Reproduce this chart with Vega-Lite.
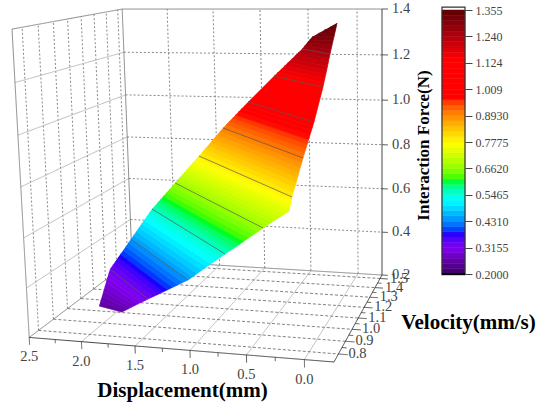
{"$schema":"https://vega.github.io/schema/vega-lite/v6.json","background":"white","padding":0,"spacing":0,"bounds":"flush","config":{"view":{"stroke":null}},
"datasets":{
"levels":[
{"F":0.24,"dL":2.122,"vL":0.962,"dR":1.846,"vR":0.924},{"F":0.2495,"dL":2.139,"vL":0.987,"dR":1.81,"vR":0.921},{"F":0.259,"dL":2.155,"vL":1.011,"dR":1.773,"vR":0.917},{"F":0.2685,"dL":2.172,"vL":1.036,"dR":1.737,"vR":0.914},{"F":0.278,"dL":2.189,"vL":1.06,"dR":1.7,"vR":0.91},{"F":0.2875,"dL":2.206,"vL":1.084,"dR":1.663,"vR":0.907},{"F":0.297,"dL":2.222,"vL":1.108,"dR":1.626,"vR":0.903},{"F":0.306,"dL":2.239,"vL":1.133,"dR":1.59,"vR":0.9},
{"F":0.3155,"dL":2.255,"vL":1.157,"dR":1.553,"vR":0.896},{"F":0.33,"dL":2.235,"vL":1.165,"dR":1.497,"vR":0.889},{"F":0.344,"dL":2.215,"vL":1.172,"dR":1.441,"vR":0.881},{"F":0.3585,"dL":2.196,"vL":1.18,"dR":1.385,"vR":0.874},{"F":0.373,"dL":2.176,"vL":1.187,"dR":1.328,"vR":0.867},{"F":0.3875,"dL":2.156,"vL":1.195,"dR":1.272,"vR":0.86},{"F":0.402,"dL":2.136,"vL":1.202,"dR":1.215,"vR":0.852},{"F":0.4165,"dL":2.117,"vL":1.21,"dR":1.159,"vR":0.845},
{"F":0.431,"dL":2.097,"vL":1.217,"dR":1.103,"vR":0.837},{"F":0.4455,"dL":2.078,"vL":1.226,"dR":1.059,"vR":0.836},{"F":0.46,"dL":2.059,"vL":1.234,"dR":1.015,"vR":0.835},{"F":0.4745,"dL":2.04,"vL":1.243,"dR":0.971,"vR":0.834},{"F":0.489,"dL":2.02,"vL":1.251,"dR":0.927,"vR":0.832},{"F":0.5035,"dL":2.001,"vL":1.259,"dR":0.883,"vR":0.831},{"F":0.518,"dL":1.982,"vL":1.267,"dR":0.838,"vR":0.83},{"F":0.532,"dL":1.963,"vL":1.276,"dR":0.794,"vR":0.829},
{"F":0.5465,"dL":1.943,"vL":1.284,"dR":0.75,"vR":0.827},{"F":0.561,"dL":1.914,"vL":1.287,"dR":0.705,"vR":0.825},{"F":0.575,"dL":1.885,"vL":1.289,"dR":0.66,"vR":0.822},{"F":0.5895,"dL":1.857,"vL":1.292,"dR":0.616,"vR":0.82},{"F":0.604,"dL":1.828,"vL":1.294,"dR":0.571,"vR":0.818},{"F":0.6185,"dL":1.799,"vL":1.297,"dR":0.526,"vR":0.816},{"F":0.633,"dL":1.77,"vL":1.299,"dR":0.481,"vR":0.813},{"F":0.6475,"dL":1.741,"vL":1.302,"dR":0.437,"vR":0.811},
{"F":0.662,"dL":1.712,"vL":1.304,"dR":0.392,"vR":0.808},{"F":0.6735,"dL":1.69,"vL":1.308,"dR":0.355,"vR":0.809},{"F":0.685,"dL":1.669,"vL":1.311,"dR":0.317,"vR":0.809},{"F":0.696,"dL":1.647,"vL":1.314,"dR":0.28,"vR":0.81},{"F":0.707,"dL":1.625,"vL":1.317,"dR":0.243,"vR":0.81},{"F":0.7185,"dL":1.604,"vL":1.321,"dR":0.206,"vR":0.81},{"F":0.73,"dL":1.582,"vL":1.324,"dR":0.168,"vR":0.811},{"F":0.738,"dL":1.566,"vL":1.326,"dR":0.166,"vR":0.814},
{"F":0.746,"dL":1.55,"vL":1.328,"dR":0.163,"vR":0.817},{"F":0.754,"dL":1.534,"vL":1.33,"dR":0.16,"vR":0.82},{"F":0.762,"dL":1.517,"vL":1.331,"dR":0.158,"vR":0.822},{"F":0.77,"dL":1.501,"vL":1.333,"dR":0.156,"vR":0.825},{"F":0.7775,"dL":1.485,"vL":1.335,"dR":0.153,"vR":0.828},{"F":0.792,"dL":1.459,"vL":1.341,"dR":0.152,"vR":0.842},{"F":0.806,"dL":1.433,"vL":1.347,"dR":0.15,"vR":0.857},{"F":0.8205,"dL":1.407,"vL":1.354,"dR":0.148,"vR":0.872},
{"F":0.835,"dL":1.381,"vL":1.36,"dR":0.146,"vR":0.886},{"F":0.8495,"dL":1.355,"vL":1.366,"dR":0.145,"vR":0.9},{"F":0.864,"dL":1.328,"vL":1.372,"dR":0.143,"vR":0.915},{"F":0.8785,"dL":1.302,"vL":1.379,"dR":0.141,"vR":0.93},{"F":0.893,"dL":1.276,"vL":1.385,"dR":0.139,"vR":0.944},{"F":0.9075,"dL":1.244,"vL":1.386,"dR":0.135,"vR":0.956},{"F":0.922,"dL":1.212,"vL":1.387,"dR":0.131,"vR":0.969},{"F":0.9365,"dL":1.18,"vL":1.389,"dR":0.128,"vR":0.982},
{"F":0.951,"dL":1.147,"vL":1.39,"dR":0.124,"vR":0.994},{"F":0.9655,"dL":1.115,"vL":1.391,"dR":0.12,"vR":1.006},{"F":0.98,"dL":1.083,"vL":1.392,"dR":0.116,"vR":1.019},{"F":0.9945,"dL":1.05,"vL":1.393,"dR":0.112,"vR":1.032},{"F":1.009,"dL":1.018,"vL":1.394,"dR":0.108,"vR":1.044},{"F":1.124,"dL":0.752,"vL":1.4,"dR":0.104,"vR":1.165},{"F":1.1385,"dL":0.718,"vL":1.402,"dR":0.105,"vR":1.179},
{"F":1.153,"dL":0.683,"vL":1.404,"dR":0.105,"vR":1.193},{"F":1.1675,"dL":0.649,"vL":1.406,"dR":0.106,"vR":1.208},{"F":1.182,"dL":0.615,"vL":1.408,"dR":0.106,"vR":1.222},{"F":1.1965,"dL":0.58,"vL":1.41,"dR":0.107,"vR":1.236},{"F":1.211,"dL":0.546,"vL":1.412,"dR":0.108,"vR":1.25},{"F":1.2255,"dL":0.512,"vL":1.414,"dR":0.109,"vR":1.264},{"F":1.24,"dL":0.477,"vL":1.416,"dR":0.109,"vR":1.278},
{"F":1.255,"dL":0.441,"vL":1.4,"dR":0.117,"vR":1.306},{"F":1.27,"dL":0.405,"vL":1.385,"dR":0.125,"vR":1.335},{"F":1.285,"dL":0.368,"vL":1.369,"dR":0.133,"vR":1.363},{"F":1.3,"dL":0.332,"vL":1.353,"dR":0.14,"vR":1.391},{"F":1.314,"dL":0.277,"vL":1.362,"dR":0.132,"vR":1.391},{"F":1.3275,"dL":0.222,"vL":1.372,"dR":0.125,"vR":1.391},{"F":1.341,"dL":0.166,"vL":1.381,"dR":0.118,"vR":1.391},{"F":1.355,"dL":0.111,"vL":1.391,"dR":0.111,"vR":1.391}],
"lines":[
{"k":"dot","D":2.5,"V":1.54,"F":1.2,"D2":-0.25,"V2":1.54,"F2":1.2},{"k":"dot","D":2.5,"V":1.54,"F":1.0,"D2":-0.25,"V2":1.54,"F2":1.0},{"k":"dot","D":2.5,"V":1.54,"F":0.8,"D2":-0.25,"V2":1.54,"F2":0.8},{"k":"dot","D":2.5,"V":1.54,"F":0.6,"D2":-0.25,"V2":1.54,"F2":0.6},{"k":"dot","D":2.5,"V":1.54,"F":0.4,"D2":-0.25,"V2":1.54,"F2":0.4},
{"k":"dot","D":2.0,"V":1.54,"F":0.2,"D2":2.0,"V2":1.54,"F2":1.4},{"k":"dot","D":1.5,"V":1.54,"F":0.2,"D2":1.5,"V2":1.54,"F2":1.4},{"k":"dot","D":1.0,"V":1.54,"F":0.2,"D2":1.0,"V2":1.54,"F2":1.4},{"k":"dot","D":0.5,"V":1.54,"F":0.2,"D2":0.5,"V2":1.54,"F2":1.4},{"k":"dot","D":0.0,"V":1.54,"F":0.2,"D2":0.0,"V2":1.54,"F2":1.4},
{"k":"dot","D":2.5,"V":0.8,"F":0.2,"D2":2.5,"V2":0.8,"F2":1.4},{"k":"dot","D":2.5,"V":0.9,"F":0.2,"D2":2.5,"V2":0.9,"F2":1.4},{"k":"dot","D":2.5,"V":1.0,"F":0.2,"D2":2.5,"V2":1.0,"F2":1.4},{"k":"dot","D":2.5,"V":1.1,"F":0.2,"D2":2.5,"V2":1.1,"F2":1.4},{"k":"dot","D":2.5,"V":1.2,"F":0.2,"D2":2.5,"V2":1.2,"F2":1.4},{"k":"dot","D":2.5,"V":1.3,"F":0.2,"D2":2.5,"V2":1.3,"F2":1.4},{"k":"dot","D":2.5,"V":1.4,"F":0.2,"D2":2.5,"V2":1.4,"F2":1.4},{"k":"dot","D":2.5,"V":1.5,"F":0.2,"D2":2.5,"V2":1.5,"F2":1.4},
{"k":"solid","D":2.5,"V":0.74,"F":1.2,"D2":2.5,"V2":1.54,"F2":1.2},{"k":"solid","D":2.5,"V":0.74,"F":1.0,"D2":2.5,"V2":1.54,"F2":1.0},{"k":"solid","D":2.5,"V":0.74,"F":0.8,"D2":2.5,"V2":1.54,"F2":0.8},{"k":"solid","D":2.5,"V":0.74,"F":0.6,"D2":2.5,"V2":1.54,"F2":0.6},{"k":"solid","D":2.5,"V":0.74,"F":0.4,"D2":2.5,"V2":1.54,"F2":0.4},
{"k":"solid","D":2.0,"V":0.74,"F":0.2,"D2":2.0,"V2":1.54,"F2":0.2},{"k":"solid","D":1.5,"V":0.74,"F":0.2,"D2":1.5,"V2":1.54,"F2":0.2},{"k":"solid","D":1.0,"V":0.74,"F":0.2,"D2":1.0,"V2":1.54,"F2":0.2},{"k":"solid","D":0.5,"V":0.74,"F":0.2,"D2":0.5,"V2":1.54,"F2":0.2},{"k":"solid","D":0.0,"V":0.74,"F":0.2,"D2":0.0,"V2":1.54,"F2":0.2},
{"k":"dash","D":2.5,"V":0.8,"F":0.2,"D2":-0.25,"V2":0.8,"F2":0.2},{"k":"dash","D":2.5,"V":0.9,"F":0.2,"D2":-0.25,"V2":0.9,"F2":0.2},{"k":"dash","D":2.5,"V":1.0,"F":0.2,"D2":-0.25,"V2":1.0,"F2":0.2},{"k":"dash","D":2.5,"V":1.1,"F":0.2,"D2":-0.25,"V2":1.1,"F2":0.2},{"k":"dash","D":2.5,"V":1.2,"F":0.2,"D2":-0.25,"V2":1.2,"F2":0.2},{"k":"dash","D":2.5,"V":1.3,"F":0.2,"D2":-0.25,"V2":1.3,"F2":0.2},{"k":"dash","D":2.5,"V":1.4,"F":0.2,"D2":-0.25,"V2":1.4,"F2":0.2},{"k":"dash","D":2.5,"V":1.5,"F":0.2,"D2":-0.25,"V2":1.5,"F2":0.2},
{"k":"frame","D":2.5,"V":0.74,"F":1.4,"D2":2.5,"V2":1.54,"F2":1.4},{"k":"frame","D":2.5,"V":0.74,"F":0.2,"D2":2.5,"V2":0.74,"F2":1.4},{"k":"frame","D":2.5,"V":1.54,"F":0.2,"D2":2.5,"V2":1.54,"F2":1.4},{"k":"frame","D":2.5,"V":1.54,"F":1.4,"D2":-0.25,"V2":1.54,"F2":1.4},{"k":"frame","D":2.5,"V":1.54,"F":0.2,"D2":-0.25,"V2":1.54,"F2":0.2},{"k":"frame","D":2.5,"V":0.74,"F":0.2,"D2":2.5,"V2":1.54,"F2":0.2},
{"k":"axis","D":-0.25,"V":1.54,"F":0.2,"D2":-0.25,"V2":1.54,"F2":1.4},{"k":"axis","D":2.5,"V":0.74,"F":0.2,"D2":-0.25,"V2":0.74,"F2":0.2},{"k":"axis","D":-0.25,"V":0.74,"F":0.2,"D2":-0.25,"V2":1.54,"F2":0.2},
{"k":"tick","D":-0.25,"V":1.54,"F":1.4,"D2":-0.31,"V2":1.54,"F2":1.4},{"k":"tick","D":-0.25,"V":1.54,"F":1.2,"D2":-0.31,"V2":1.54,"F2":1.2},{"k":"tick","D":-0.25,"V":1.54,"F":1.0,"D2":-0.31,"V2":1.54,"F2":1.0},{"k":"tick","D":-0.25,"V":1.54,"F":0.8,"D2":-0.31,"V2":1.54,"F2":0.8},{"k":"tick","D":-0.25,"V":1.54,"F":0.6,"D2":-0.31,"V2":1.54,"F2":0.6},{"k":"tick","D":-0.25,"V":1.54,"F":0.4,"D2":-0.31,"V2":1.54,"F2":0.4},{"k":"tick","D":-0.25,"V":1.54,"F":0.2,"D2":-0.31,"V2":1.54,"F2":0.2},
{"k":"tick","D":2.5,"V":0.74,"F":0.2,"D2":2.5,"V2":0.74,"F2":0.17},{"k":"tick","D":2.25,"V":0.74,"F":0.2,"D2":2.25,"V2":0.74,"F2":0.185},{"k":"tick","D":2.0,"V":0.74,"F":0.2,"D2":2.0,"V2":0.74,"F2":0.17},{"k":"tick","D":1.75,"V":0.74,"F":0.2,"D2":1.75,"V2":0.74,"F2":0.185},{"k":"tick","D":1.5,"V":0.74,"F":0.2,"D2":1.5,"V2":0.74,"F2":0.17},{"k":"tick","D":1.25,"V":0.74,"F":0.2,"D2":1.25,"V2":0.74,"F2":0.185},{"k":"tick","D":1.0,"V":0.74,"F":0.2,"D2":1.0,"V2":0.74,"F2":0.17},{"k":"tick","D":0.75,"V":0.74,"F":0.2,"D2":0.75,"V2":0.74,"F2":0.185},{"k":"tick","D":0.5,"V":0.74,"F":0.2,"D2":0.5,"V2":0.74,"F2":0.17},{"k":"tick","D":0.25,"V":0.74,"F":0.2,"D2":0.25,"V2":0.74,"F2":0.185},{"k":"tick","D":0.0,"V":0.74,"F":0.2,"D2":0.0,"V2":0.74,"F2":0.17},
{"k":"tick","D":-0.25,"V":0.8,"F":0.2,"D2":-0.33,"V2":0.8,"F2":0.2},{"k":"tick","D":-0.25,"V":0.85,"F":0.2,"D2":-0.29,"V2":0.85,"F2":0.2},{"k":"tick","D":-0.25,"V":0.9,"F":0.2,"D2":-0.33,"V2":0.9,"F2":0.2},{"k":"tick","D":-0.25,"V":0.95,"F":0.2,"D2":-0.29,"V2":0.95,"F2":0.2},{"k":"tick","D":-0.25,"V":1.0,"F":0.2,"D2":-0.33,"V2":1.0,"F2":0.2},{"k":"tick","D":-0.25,"V":1.05,"F":0.2,"D2":-0.29,"V2":1.05,"F2":0.2},{"k":"tick","D":-0.25,"V":1.1,"F":0.2,"D2":-0.33,"V2":1.1,"F2":0.2},{"k":"tick","D":-0.25,"V":1.15,"F":0.2,"D2":-0.29,"V2":1.15,"F2":0.2},{"k":"tick","D":-0.25,"V":1.2,"F":0.2,"D2":-0.33,"V2":1.2,"F2":0.2},{"k":"tick","D":-0.25,"V":1.25,"F":0.2,"D2":-0.29,"V2":1.25,"F2":0.2},{"k":"tick","D":-0.25,"V":1.3,"F":0.2,"D2":-0.33,"V2":1.3,"F2":0.2},{"k":"tick","D":-0.25,"V":1.35,"F":0.2,"D2":-0.29,"V2":1.35,"F2":0.2},{"k":"tick","D":-0.25,"V":1.4,"F":0.2,"D2":-0.33,"V2":1.4,"F2":0.2},{"k":"tick","D":-0.25,"V":1.45,"F":0.2,"D2":-0.29,"V2":1.45,"F2":0.2},{"k":"tick","D":-0.25,"V":1.5,"F":0.2,"D2":-0.33,"V2":1.5,"F2":0.2},
{"k":"contour","D":2.255,"V":1.157,"F":0.3155,"D2":1.553,"V2":0.896,"F2":0.3155},{"k":"contour","D":2.097,"V":1.217,"F":0.431,"D2":1.103,"V2":0.837,"F2":0.431},{"k":"contour","D":1.943,"V":1.284,"F":0.5465,"D2":0.75,"V2":0.827,"F2":0.5465},{"k":"contour","D":1.712,"V":1.304,"F":0.662,"D2":0.392,"V2":0.808,"F2":0.662},{"k":"contour","D":1.485,"V":1.335,"F":0.7775,"D2":0.153,"V2":0.828,"F2":0.7775},{"k":"contour","D":1.276,"V":1.385,"F":0.893,"D2":0.139,"V2":0.944,"F2":0.893},{"k":"contour","D":1.018,"V":1.394,"F":1.009,"D2":0.108,"V2":1.044,"F2":1.009},{"k":"contour","D":0.752,"V":1.4,"F":1.124,"D2":0.104,"V2":1.165,"F2":1.124},{"k":"contour","D":0.477,"V":1.416,"F":1.24,"D2":0.109,"V2":1.278,"F2":1.24},
{"k":"zlab","t":"1.4","D":-0.25,"V":1.54,"F":1.4},{"k":"zlab","t":"1.2","D":-0.25,"V":1.54,"F":1.2},{"k":"zlab","t":"1.0","D":-0.25,"V":1.54,"F":1.0},{"k":"zlab","t":"0.8","D":-0.25,"V":1.54,"F":0.8},{"k":"zlab","t":"0.6","D":-0.25,"V":1.54,"F":0.6},{"k":"zlab","t":"0.4","D":-0.25,"V":1.54,"F":0.4},{"k":"zlab","t":"0.2","D":-0.25,"V":1.54,"F":0.2},
{"k":"vlab","t":"0.8","D":-0.25,"V":0.8,"F":0.2},{"k":"vlab","t":"0.9","D":-0.25,"V":0.9,"F":0.2},{"k":"vlab","t":"1.0","D":-0.25,"V":1.0,"F":0.2},{"k":"vlab","t":"1.1","D":-0.25,"V":1.1,"F":0.2},{"k":"vlab","t":"1.2","D":-0.25,"V":1.2,"F":0.2},{"k":"vlab","t":"1.3","D":-0.25,"V":1.3,"F":0.2},{"k":"vlab","t":"1.4","D":-0.25,"V":1.4,"F":0.2},{"k":"vlab","t":"1.5","D":-0.25,"V":1.5,"F":0.2},
{"k":"dlab","t":"2.5","D":2.5,"V":0.74,"F":0.2},{"k":"dlab","t":"2.0","D":2.0,"V":0.74,"F":0.2},{"k":"dlab","t":"1.5","D":1.5,"V":0.74,"F":0.2},{"k":"dlab","t":"1.0","D":1.0,"V":0.74,"F":0.2},{"k":"dlab","t":"0.5","D":0.5,"V":0.74,"F":0.2},{"k":"dlab","t":"0.0","D":0.0,"V":0.74,"F":0.2}],
"bar":[{"F":0.2},{"F":0.2231},{"F":0.2462},{"F":0.2693},{"F":0.2924},{"F":0.3155},{"F":0.3386},{"F":0.3617},{"F":0.3848},{"F":0.4079},{"F":0.431},{"F":0.4541},{"F":0.4772},{"F":0.5003},{"F":0.5234},{"F":0.5465},{"F":0.5696},{"F":0.5927},{"F":0.6158},{"F":0.6389},{"F":0.662},{"F":0.6851},{"F":0.7082},{"F":0.7313},{"F":0.7544},{"F":0.7775},{"F":0.8006},{"F":0.8237},{"F":0.8468},{"F":0.8699},{"F":0.893},{"F":0.9161},{"F":0.9392},{"F":0.9623},{"F":0.9854},{"F":1.0085},{"F":1.0316},{"F":1.0547},{"F":1.0778},{"F":1.1009},{"F":1.124},{"F":1.1471},{"F":1.1702},{"F":1.1933},{"F":1.2164},{"F":1.2395},{"F":1.2626},{"F":1.2857},{"F":1.3088},{"F":1.3319},{"F":1.355}]},
"hconcat":[
{"width":442,"height":402,
"encoding":{
"x":{"field":"sx","type":"quantitative","scale":{"domain":[0,442],"nice":false,"zero":false},"axis":{"title":"Displacement(mm)","domain":false,"ticks":false,"labels":false,"grid":false,"titleFont":"Liberation Serif","titleFontWeight":"bold","titleFontSize":21,"titleColor":"#000","titleX":182,"titleY":-12,"titleBaseline":"middle","titleAlign":"center"}},
"y":{"field":"sy","type":"quantitative","scale":{"domain":[402,0],"nice":false,"zero":false},"axis":{"title":"Velocity(mm/s)","domain":false,"ticks":false,"labels":false,"grid":false,"titleFont":"Liberation Serif","titleFontWeight":"bold","titleFontSize":21,"titleColor":"#000","titleX":468,"titleY":322,"titleAngle":0,"titleBaseline":"middle","titleAlign":"center"}}},
"layer":[
{"data":{"name":"lines"},
"transform":[{"filter":"indexof(['dot','solid','dash','frame','axis','tick'],datum.k)>=0"},
{"calculate":"(datum.D+0.25)/2.75","as":"a"},{"calculate":"(1.54-datum.V)/0.8","as":"b"},{"calculate":"(datum.F-0.2)/1.2","as":"c"},
{"calculate":"(datum.D2+0.25)/2.75","as":"a2"},{"calculate":"(1.54-datum.V2)/0.8","as":"b2"},{"calculate":"(datum.F2-0.2)/1.2","as":"c2"},
{"calculate":"1+0.06*datum.a-0.2*datum.b-0.04*datum.c","as":"w"},{"calculate":"1+0.06*datum.a2-0.2*datum.b2-0.04*datum.c2","as":"w2"},
{"calculate":"(382-242.08*datum.a-114.8*datum.b-15.28*datum.c)/datum.w","as":"sx"},{"calculate":"(275+0.6*datum.a+14.6*datum.b-266.36*datum.c)/datum.w","as":"sy"},
{"calculate":"(382-242.08*datum.a2-114.8*datum.b2-15.28*datum.c2)/datum.w2","as":"sx2"},{"calculate":"(275+0.6*datum.a2+14.6*datum.b2-266.36*datum.c2)/datum.w2","as":"sy2"}],
"mark":{"type":"rule"},
"encoding":{"x2":{"field":"sx2"},"y2":{"field":"sy2"},
"color":{"field":"k","type":"nominal","legend":null,"scale":{"domain":["dot","solid","dash","frame","axis","tick"],"range":["#888888","#b8b8b8","#777777","#7a7a7a","#222222","#333333"]}},
"strokeDash":{"field":"k","type":"nominal","legend":null,"scale":{"domain":["dot","solid","dash","frame","axis","tick"],"range":[[2,2],[1,0],[3,2],[1,0],[1,0],[1,0]]}},
"strokeWidth":{"field":"k","type":"nominal","legend":null,"scale":{"domain":["dot","solid","dash","frame","axis","tick"],"range":[1,0.8,0.9,1.1,1.4,1]}}}},
{"data":{"name":"levels"},
"transform":[{"window":[{"op":"lead","field":"F","as":"F2"},{"op":"lead","field":"dL","as":"dL2"},{"op":"lead","field":"vL","as":"vL2"},{"op":"lead","field":"dR","as":"dR2"},{"op":"lead","field":"vR","as":"vR2"}],"sort":[{"field":"F","order":"ascending"}]},
{"filter":"isValid(datum.F2)"},
{"calculate":"(datum.F+datum.F2)/2","as":"mid"},
{"calculate":"[datum.dL,datum.dR,datum.dR2,datum.dL2]","as":"pd"},{"calculate":"[datum.vL,datum.vR,datum.vR2,datum.vL2]","as":"pv"},{"calculate":"[datum.F,datum.F,datum.F2,datum.F2]","as":"pf"},{"calculate":"[0,1,2,3]","as":"o"},
{"flatten":["pd","pv","pf","o"],"as":["D","V","Fp","o"]},
{"calculate":"(datum.D+0.25)/2.75","as":"a"},{"calculate":"(1.54-datum.V)/0.8","as":"b"},{"calculate":"(datum.Fp-0.2)/1.2","as":"c"},
{"calculate":"1+0.06*datum.a-0.2*datum.b-0.04*datum.c","as":"w"},
{"calculate":"(382-242.08*datum.a-114.8*datum.b-15.28*datum.c)/datum.w","as":"sx"},{"calculate":"(275+0.6*datum.a+14.6*datum.b-266.36*datum.c)/datum.w","as":"sy"}],
"mark":{"type":"line","strokeWidth":0.7,"interpolate":"linear"},
"encoding":{"detail":{"field":"F"},"order":{"field":"o","type":"quantitative"},
"fill":{"field":"mid","type":"quantitative","legend":null,"scale":{"domain":[0.2,0.3,0.37,0.51,0.6,0.76,0.96,1.13,1.355],"range":["#45006e","#8000f0","#0000ff","#00ffff","#00ff00","#ffff00","#ff0000","#ff0000","#560000"]}},
"stroke":{"field":"mid","type":"quantitative","legend":null,"scale":{"domain":[0.2,0.3,0.37,0.51,0.6,0.76,0.96,1.13,1.355],"range":["#45006e","#8000f0","#0000ff","#00ffff","#00ff00","#ffff00","#ff0000","#ff0000","#560000"]}}}},
{"data":{"name":"lines"},
"transform":[{"filter":"datum.k=='contour'"},
{"calculate":"(datum.D+0.25)/2.75","as":"a"},{"calculate":"(1.54-datum.V)/0.8","as":"b"},{"calculate":"(datum.F-0.2)/1.2","as":"c"},
{"calculate":"(datum.D2+0.25)/2.75","as":"a2"},{"calculate":"(1.54-datum.V2)/0.8","as":"b2"},{"calculate":"(datum.F2-0.2)/1.2","as":"c2"},
{"calculate":"1+0.06*datum.a-0.2*datum.b-0.04*datum.c","as":"w"},{"calculate":"1+0.06*datum.a2-0.2*datum.b2-0.04*datum.c2","as":"w2"},
{"calculate":"(382-242.08*datum.a-114.8*datum.b-15.28*datum.c)/datum.w","as":"sx"},{"calculate":"(275+0.6*datum.a+14.6*datum.b-266.36*datum.c)/datum.w","as":"sy"},
{"calculate":"(382-242.08*datum.a2-114.8*datum.b2-15.28*datum.c2)/datum.w2","as":"sx2"},{"calculate":"(275+0.6*datum.a2+14.6*datum.b2-266.36*datum.c2)/datum.w2","as":"sy2"}],
"mark":{"type":"rule","color":"#555555","strokeWidth":0.8,"opacity":0.85},
"encoding":{"x2":{"field":"sx2"},"y2":{"field":"sy2"}}},
{"data":{"name":"lines"},
"transform":[{"filter":"datum.k=='zlab'||datum.k=='vlab'"},
{"calculate":"(datum.D+0.25)/2.75","as":"a"},{"calculate":"(1.54-datum.V)/0.8","as":"b"},{"calculate":"(datum.F-0.2)/1.2","as":"c"},
{"calculate":"1+0.06*datum.a-0.2*datum.b-0.04*datum.c","as":"w"},
{"calculate":"(382-242.08*datum.a-114.8*datum.b-15.28*datum.c)/datum.w","as":"sx"},{"calculate":"(275+0.6*datum.a+14.6*datum.b-266.36*datum.c)/datum.w","as":"sy"}],
"mark":{"type":"text","align":"left","baseline":"middle","dx":10,"font":"Liberation Serif","fontSize":14.5,"color":"#444444"},
"encoding":{"text":{"field":"t"}}},
{"data":{"name":"lines"},
"transform":[{"filter":"datum.k=='dlab'"},
{"calculate":"(datum.D+0.25)/2.75","as":"a"},{"calculate":"(1.54-datum.V)/0.8","as":"b"},{"calculate":"(datum.F-0.2)/1.2","as":"c"},
{"calculate":"1+0.06*datum.a-0.2*datum.b-0.04*datum.c","as":"w"},
{"calculate":"(382-242.08*datum.a-114.8*datum.b-15.28*datum.c)/datum.w","as":"sx"},{"calculate":"(275+0.6*datum.a+14.6*datum.b-266.36*datum.c)/datum.w","as":"sy"}],
"mark":{"type":"text","align":"center","baseline":"middle","dy":20,"font":"Liberation Serif","fontSize":14.5,"color":"#444444"},
"encoding":{"text":{"field":"t"}}}
]},
{"width":23,"height":402,
"encoding":{"y":{"field":"F","type":"quantitative","scale":{"domain":[-0.36,1.3988],"nice":false,"zero":false},
"axis":{"title":"Interaction Force(N)","grid":false,"orient":"right","domain":false,"values":[0.2,0.3155,0.431,0.5465,0.662,0.7775,0.893,1.009,1.124,1.24,1.355],"tickSize":7,"tickColor":"#444444","tickWidth":1,"labelPadding":3,"labelFont":"Liberation Serif","labelFontSize":12,"labelColor":"#444444","labelExpr":"datum.value>=1?format(datum.value,'.3f'):format(datum.value,'.4f')","labelOverlap":false,"titleFont":"Liberation Serif","titleFontWeight":"bold","titleFontSize":17,"titleColor":"#000","titleX":-42,"titleY":145,"titleAngle":270,"titleBaseline":"middle","titleAlign":"center"}}},
"layer":[
{"data":{"name":"bar"},"transform":[{"window":[{"op":"lead","field":"F","as":"F2"}],"sort":[{"field":"F","order":"ascending"}]},{"filter":"isValid(datum.F2)"}],
"mark":{"type":"rect","strokeWidth":0.5},
"encoding":{"y2":{"field":"F2"},
"fill":{"field":"F","type":"quantitative","legend":null,"scale":{"domain":[0.2,0.3,0.37,0.51,0.6,0.76,0.96,1.13,1.355],"range":["#45006e","#8000f0","#0000ff","#00ffff","#00ff00","#ffff00","#ff0000","#ff0000","#560000"]}},
"stroke":{"field":"F","type":"quantitative","legend":null,"scale":{"domain":[0.2,0.3,0.37,0.51,0.6,0.76,0.96,1.13,1.355],"range":["#45006e","#8000f0","#0000ff","#00ffff","#00ff00","#ffff00","#ff0000","#ff0000","#560000"]}}}},
{"data":{"values":[{"F":0.197,"top":1.368}]},"mark":{"type":"rect","fillOpacity":0,"stroke":"#333333","strokeWidth":1.2},"encoding":{"y2":{"field":"top"}}},
{"data":{"values":[{"F":0.2}]},"mark":{"type":"rule","color":"#000000","strokeWidth":2},"encoding":{}}
]}
]}
